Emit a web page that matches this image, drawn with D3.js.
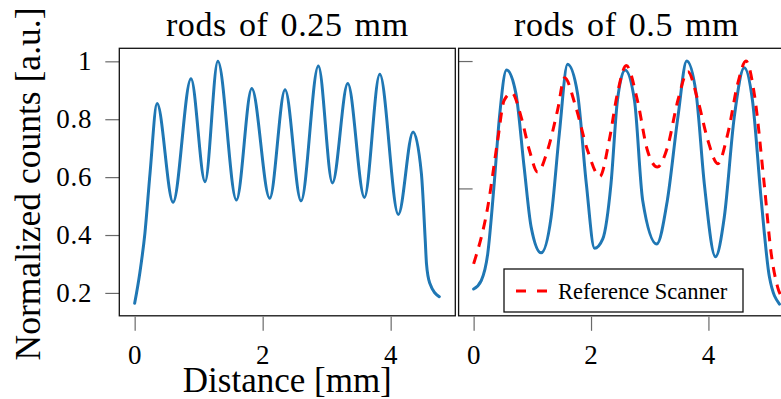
<!DOCTYPE html>
<html>
<head>
<meta charset="utf-8">
<script src="https://cdn.jsdelivr.net/npm/d3@7"></script>
<style>
  html, body { margin: 0; padding: 0; background: #fff; }
  svg { display: block; }
  text { font-family: "Liberation Serif", "Times New Roman", serif; fill: #000; }
</style>
</head>
<body>
<svg id="chart" width="781" height="399"></svg>
<script>
// ---- Data ----
const leftDistance = [0.00, 0.08, 0.16, 0.24, 0.35, 0.60, 0.88, 1.10, 1.30, 1.59, 1.83, 2.11, 2.35, 2.60, 2.87, 3.09, 3.33, 3.59, 3.83, 4.12, 4.35, 4.48, 4.54, 4.56, 4.61, 4.76];
const leftCounts   = [0.164, 0.268, 0.406, 0.613, 0.854, 0.513, 0.940, 0.584, 1.000, 0.521, 0.906, 0.527, 0.902, 0.518, 0.984, 0.580, 0.923, 0.530, 0.955, 0.471, 0.756, 0.613, 0.383, 0.300, 0.234, 0.187];

const rightBlueDistance = [0.00, 0.13, 0.24, 0.35, 0.44, 0.56, 0.72, 0.86, 0.98, 1.15, 1.32, 1.46, 1.60, 1.77, 1.92, 2.06, 2.20, 2.34, 2.45, 2.58, 2.74, 2.88, 3.12, 3.30, 3.48, 3.63, 3.79, 3.93, 4.12, 4.27, 4.44, 4.61, 4.75, 4.90, 5.04, 5.21];
const rightBlueCounts   = [0.105, 0.138, 0.243, 0.518, 0.780, 0.965, 0.873, 0.584, 0.348, 0.247, 0.387, 0.715, 0.987, 0.873, 0.518, 0.265, 0.302, 0.518, 0.846, 0.965, 0.846, 0.453, 0.282, 0.453, 0.780, 1.000, 0.873, 0.518, 0.232, 0.387, 0.780, 0.974, 0.846, 0.453, 0.151, 0.046];

const rightRefDistance = [0.00, 0.24, 0.41, 0.52, 0.65, 0.81, 0.95, 1.09, 1.26, 1.43, 1.55, 1.74, 1.94, 2.15, 2.31, 2.45, 2.60, 2.79, 2.96, 3.13, 3.30, 3.48, 3.65, 3.82, 3.99, 4.16, 4.33, 4.50, 4.64, 4.78, 4.95, 5.07, 5.18, 5.30];
const rightRefCounts   = [0.204, 0.426, 0.689, 0.846, 0.875, 0.780, 0.650, 0.564, 0.650, 0.807, 0.934, 0.820, 0.650, 0.547, 0.689, 0.873, 0.982, 0.846, 0.650, 0.584, 0.660, 0.846, 0.958, 0.846, 0.689, 0.597, 0.715, 0.912, 1.000, 0.873, 0.518, 0.243, 0.112, 0.060];

const xTickValues = [0, 2, 4];
const leftYTickValues = [0.2, 0.4, 0.6, 0.8, 1];
const rightYTickValues = [0.5, 1];
const titles = ["rods of 0.25 mm", "rods of 0.5 mm"];
const legendLabel = "Reference Scanner";
const xLabel = "Distance [mm]";
const yLabel = "Normalized counts [a.u.]";

// ---- Layout ----
const svg = d3.select("#chart");
svg.append("rect").attr("width", 781).attr("height", 399).attr("fill", "#fff");

const plotTop = 48.3, plotBottom = 315.8;
const L = { x0: 119.3, x1: 455.3 };
const R = { x0: 458.6, x1: 794.6 };

const xL = d3.scaleLinear().domain([-0.24, 5.01]).range([L.x0, L.x1]);
const yL = d3.scaleLinear().domain([0.121, 1.045]).range([plotBottom, plotTop]);
const xR = d3.scaleLinear().domain([-0.256, 5.468]).range([R.x0, R.x1]);
const yR = d3.scaleLinear().domain([0, 1.05]).range([plotBottom, plotTop]);

const blue = "#1f77b4";
const tickColor = "#6a6a6a";

function styleAxis(g) {
  g.select(".domain").remove();
  g.selectAll(".tick line").attr("stroke", tickColor).attr("stroke-width", 1.2);
  g.selectAll(".tick text").attr("font-family", "Liberation Serif, serif").attr("font-size", 27)
    .attr("letter-spacing", 0.8).attr("fill", "#000");
}

// clip paths
const defs = svg.append("defs");
defs.append("clipPath").attr("id", "clipL").append("rect")
  .attr("x", L.x0).attr("y", plotTop).attr("width", L.x1 - L.x0).attr("height", plotBottom - plotTop);
defs.append("clipPath").attr("id", "clipR").append("rect")
  .attr("x", R.x0).attr("y", plotTop).attr("width", R.x1 - R.x0).attr("height", plotBottom - plotTop);

// ---- Left panel axes ----
svg.append("g").attr("transform", `translate(${L.x0},0)`)
  .call(d3.axisLeft(yL).tickValues(leftYTickValues).tickSize(14).tickPadding(13).tickFormat(d3.format("")))
  .call(styleAxis);
svg.append("g").attr("transform", `translate(0,${plotBottom + 1})`)
  .call(d3.axisBottom(xL).tickValues(xTickValues).tickSize(14).tickPadding(14).tickFormat(d3.format("d")))
  .call(styleAxis);

// ---- Right panel axes ----
svg.append("g").attr("transform", `translate(${R.x0},0)`)
  .call(d3.axisRight(yR).tickValues(rightYTickValues).tickSize(14).tickFormat(() => ""))
  .call(styleAxis);
svg.append("g").attr("transform", `translate(0,${plotBottom + 1})`)
  .call(d3.axisBottom(xR).tickValues(xTickValues).tickSize(14).tickPadding(14).tickFormat(d3.format("d")))
  .call(styleAxis);

// ---- Lines ----
const lineL = d3.line().x(d => xL(d[0])).y(d => yL(d[1])).curve(d3.curveMonotoneX);
const lineR = d3.line().x(d => xR(d[0])).y(d => yR(d[1])).curve(d3.curveMonotoneX);

svg.append("path")
  .datum(d3.zip(leftDistance, leftCounts))
  .attr("clip-path", "url(#clipL)")
  .attr("d", lineL).attr("fill", "none").attr("stroke", blue).attr("stroke-width", 3)
  .attr("stroke-linejoin", "round").attr("stroke-linecap", "round");

const gR = svg.append("g").attr("clip-path", "url(#clipR)");
gR.append("path")
  .datum(d3.zip(rightBlueDistance, rightBlueCounts))
  .attr("d", lineR).attr("fill", "none").attr("stroke", blue).attr("stroke-width", 3)
  .attr("stroke-linejoin", "round").attr("stroke-linecap", "round");
gR.append("path")
  .datum(d3.zip(rightRefDistance, rightRefCounts))
  .attr("d", lineR).attr("fill", "none").attr("stroke", "#ff0000").attr("stroke-width", 3)
  .attr("stroke-dasharray", "10,8");

// ---- Boxes ----
svg.append("rect").attr("x", L.x0).attr("y", plotTop).attr("width", L.x1 - L.x0).attr("height", plotBottom - plotTop)
  .attr("fill", "none").attr("stroke", "#111").attr("stroke-width", 1.3);
svg.append("rect").attr("x", R.x0).attr("y", plotTop).attr("width", R.x1 - R.x0).attr("height", plotBottom - plotTop)
  .attr("fill", "none").attr("stroke", "#111").attr("stroke-width", 1.3);

// ---- Legend ----
const lg = svg.append("g");
lg.append("rect").attr("x", 504).attr("y", 269).attr("width", 239).attr("height", 43)
  .attr("fill", "#fff").attr("stroke", "#111").attr("stroke-width", 1.3);
lg.append("line").attr("x1", 516).attr("x2", 548).attr("y1", 291).attr("y2", 291)
  .attr("stroke", "#ff0000").attr("stroke-width", 3).attr("stroke-dasharray", "10,11");
lg.append("text").attr("x", 558).attr("y", 299).attr("font-size", 22.5).text(legendLabel);

// ---- Titles and labels ----
svg.append("text").attr("x", (L.x0 + L.x1) / 2).attr("y", 36).attr("text-anchor", "middle")
  .attr("font-size", 34).attr("word-spacing", 3).attr("letter-spacing", 0.6).text(titles[0]);
svg.append("text").attr("x", (R.x0 + R.x1) / 2).attr("y", 36).attr("text-anchor", "middle")
  .attr("font-size", 34).attr("word-spacing", 3).attr("letter-spacing", 0.6).text(titles[1]);
svg.append("text").attr("x", (L.x0 + L.x1) / 2).attr("y", 392).attr("text-anchor", "middle")
  .attr("font-size", 35).text(xLabel);
svg.append("text").attr("transform", "translate(40,184) rotate(-90)").attr("text-anchor", "middle")
  .attr("font-size", 35.5).text(yLabel);
</script>
</body>
</html>
